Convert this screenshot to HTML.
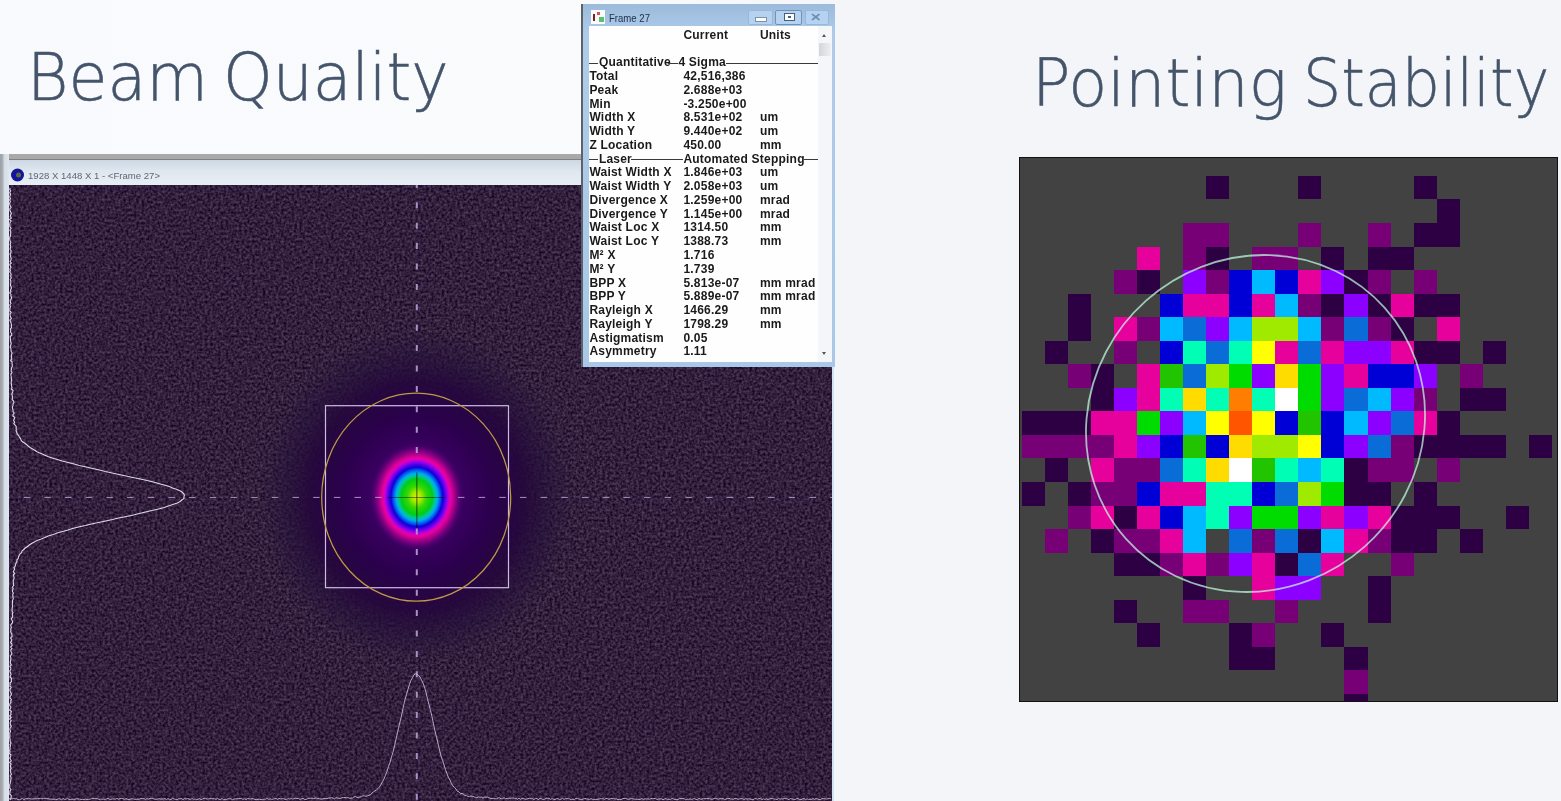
<!DOCTYPE html>
<html><head><meta charset="utf-8"><title>Beam Quality / Pointing Stability</title>
<style>
html,body{margin:0;padding:0}
body{width:1561px;height:801px;overflow:hidden;position:relative;background:linear-gradient(90deg,#f9fafd 0%,#fafbfd 36%,#f3f5f8 54%,#f3f5f8 100%);font-family:"Liberation Sans",sans-serif}
svg,#win,.h{position:absolute}
.h{font-family:"DejaVu Sans","Liberation Sans",sans-serif;font-weight:200;font-size:66px;line-height:77px;color:#44546a;white-space:nowrap;-webkit-text-stroke:0.5px #44546a;transform-origin:0 0}
#win{width:252px;height:363.7px;background:linear-gradient(#9cbada,#a3c1e1 12px,#a9c7e7 23px,#aecbea 30px,#a9c7e6);box-shadow:-2px 0 0 #5d6269}
.tb{position:absolute;left:0;top:0;width:100%;height:24px}
.ico{position:absolute;left:7.6px;top:6.8px;width:14.4px;height:13.7px;background:#fbfbfb}
.ico i{position:absolute;left:2.5px;top:4px;width:2px;height:7px;background:#7a2020}
.ico b{position:absolute;left:6px;top:2px;width:3.5px;height:3px;background:#e05050}
.ico u{position:absolute;left:8.5px;top:7px;width:4.5px;height:5px;background:#58c070}
.tt{position:absolute;left:25.5px;top:9px;font-size:10.3px;line-height:12px;color:#1e2e46;transform:scaleX(0.93);transform-origin:0 0}
.btn{position:absolute;top:6.6px;height:14.6px;border:1px solid #98b8da;border-radius:2px;background:#b6d2f0;box-sizing:border-box}
.btn.rsb{border-color:#6f93bb}
.btn em{position:absolute;font-style:normal}
.mn{left:6px;top:6.3px;width:10px;height:2.2px;background:#fff;border:1px solid #7b93ad;box-sizing:content-box}
.rs{left:8px;top:2.2px;width:8.5px;height:6px;background:#fff;border:1.2px solid #44607f}
.rs:after{content:"";position:absolute;left:3px;top:2px;width:2.5px;height:2px;background:#44607f}
.cl{left:5.5px;top:0px;font-size:11px;line-height:12px;color:#6d8fb5;font-weight:bold;transform:scaleX(1.25);transform-origin:50% 50%}
.body{position:absolute;left:6.4px;top:22.3px;width:242.4px;height:336px;background:#fefefe;overflow:hidden}
.hd{position:absolute;top:2.6px;letter-spacing:0.22px;font-size:12px;font-weight:bold;color:#1c1c1c;line-height:15px}
.r{position:absolute;left:0;width:232px;height:15px;font-size:12px;line-height:15px;font-weight:bold;color:#1a1a1a;white-space:nowrap;letter-spacing:0.22px}
.r span{position:absolute;top:0}
.r .l{left:0px} .r .v{left:94px} .r .u{left:170.5px}
.r .ln{top:7.5px;height:1px;background:#3a3a3a}
.sb{position:absolute;right:0;top:0;width:14px;height:100%;background:#f4f7fa}
.sb .up{position:absolute;left:4.5px;top:8px;border:2.6px solid transparent;border-bottom:3px solid #555;border-top:none}
.sb .dn{position:absolute;left:4.5px;bottom:7px;border:2.6px solid transparent;border-top:3px solid #555;border-bottom:none}
.sb .th{position:absolute;left:1.5px;top:17.5px;width:11.5px;height:13px;background:linear-gradient(90deg,#d2d6dc,#eeeff1);border-radius:1px}
</style></head><body>
<div class="h" style="left:26.9px;top:39px;transform:scaleX(0.96)">Beam</div>
<div class="h" style="left:222.9px;top:39px;transform:scaleX(0.957)">Quality</div>
<div class="h" style="left:1031.5px;top:45px;transform:scaleX(0.967)">Pointing</div>
<div class="h" style="left:1302.7px;top:45px;transform:scaleX(0.912)">Stability</div>
<svg id="beam" width="834" height="647" viewBox="0 0 834 647" style="left:0px;top:154px">
<defs>
<filter id="nz" x="0" y="0" width="100%" height="100%" color-interpolation-filters="sRGB">
<feTurbulence type="fractalNoise" baseFrequency="0.38" numOctaves="2" seed="5" result="t"/>
<feColorMatrix in="t" type="matrix" values="0.38 0 0 0 0.005  0.38 0 0 0 -0.065  0.36 0 0 0 0.06  0 0 0 0 1"/>
</filter>
<linearGradient id="tbg" x1="0" y1="0" x2="0" y2="1"><stop offset="0" stop-color="#ccd8e4"/><stop offset="0.45" stop-color="#dfe7ef"/><stop offset="1" stop-color="#e8eef5"/></linearGradient>
<linearGradient id="lbg" x1="0" y1="0" x2="1" y2="0"><stop offset="0" stop-color="#9da1a5"/><stop offset="0.25" stop-color="#a6aaae"/><stop offset="0.5" stop-color="#d4dde7"/><stop offset="1" stop-color="#dee7f0"/></linearGradient>
<radialGradient id="halo" cx="0.5" cy="0.5" r="0.5">
<stop offset="0" stop-color="#4a007a" stop-opacity="1"/>
<stop offset="0.28" stop-color="#3a0062" stop-opacity="1"/>
<stop offset="0.48" stop-color="#2a004c" stop-opacity="1"/>
<stop offset="0.68" stop-color="#24063c" stop-opacity="0.9"/>
<stop offset="0.84" stop-color="#26103a" stop-opacity="0.55"/>
<stop offset="1" stop-color="#2a163c" stop-opacity="0"/>
</radialGradient>
<radialGradient id="spot" cx="0.5" cy="0.5" r="0.5">
<stop offset="0" stop-color="#dcf000"/>
<stop offset="0.10" stop-color="#a4e800"/>
<stop offset="0.20" stop-color="#38d800"/>
<stop offset="0.33" stop-color="#00cc18"/>
<stop offset="0.39" stop-color="#00c890"/>
<stop offset="0.44" stop-color="#00acf0"/>
<stop offset="0.50" stop-color="#0058f0"/>
<stop offset="0.55" stop-color="#1000d8"/>
<stop offset="0.60" stop-color="#4c00e4"/>
<stop offset="0.645" stop-color="#9000f0"/>
<stop offset="0.69" stop-color="#d400c4"/>
<stop offset="0.725" stop-color="#e8009c"/>
<stop offset="0.79" stop-color="#b4008e"/>
<stop offset="0.88" stop-color="#70007c" stop-opacity="0.85"/>
<stop offset="1" stop-color="#44006c" stop-opacity="0"/>
</radialGradient>
</defs>
<rect x="0" y="0" width="834" height="6" fill="#a9a9a9"/>
<rect x="0" y="5" width="834" height="1" fill="#808080"/>
<rect x="0" y="6" width="834" height="647" fill="#e2e9f1"/>
<rect x="0" y="6" width="834" height="25" fill="url(#tbg)"/>
<rect x="0" y="0" width="9" height="647" fill="url(#lbg)"/>
<rect x="832" y="31" width="2" height="647" fill="#d5e2f0"/>
<rect x="9" y="31" width="823" height="616" fill="#33223f"/>
<rect x="9" y="31" width="823" height="616" filter="url(#nz)"/>
<ellipse cx="416.8" cy="342.5" rx="158" ry="168" fill="url(#halo)"/>
<ellipse cx="416.8" cy="343.0" rx="47" ry="54" fill="url(#spot)"/>
<rect x="325.5" y="251.7" width="183" height="182" fill="none" stroke="#cdbbe6" stroke-width="1.2"/>
<ellipse cx="416.2" cy="343.2" rx="94.5" ry="104" fill="none" stroke="#bd9a44" stroke-width="1.25"/>
<line x1="416.8" y1="31" x2="416.8" y2="301.5" stroke="#a892c4" stroke-width="2" stroke-dasharray="6 14.4" stroke-dashoffset="3.1"/>
<line x1="416.8" y1="374.5" x2="416.8" y2="647" stroke="#a892c4" stroke-width="2" stroke-dasharray="6 14.4"/>
<line x1="9" y1="343.4" x2="381.8" y2="343.4" stroke="#a892c4" stroke-width="1" stroke-dasharray="6.5 14.18" stroke-dashoffset="6.03"/>
<line x1="451.8" y1="343.4" x2="832" y2="343.4" stroke="#a892c4" stroke-width="1" stroke-dasharray="6.5 14.18" stroke-dashoffset="14.55"/>
<line x1="416.8" y1="318.5" x2="416.8" y2="373.5" stroke="#000" stroke-opacity="0.5" stroke-width="1.3"/>
<line x1="386.8" y1="343.5" x2="445.8" y2="343.5" stroke="#000" stroke-opacity="0.45" stroke-width="1.1"/>
<path d="M10.2 34.0 L9.8 35.5 L10.8 37.0 L9.7 38.5 L10.6 40.0 L10.2 41.5 L9.7 43.0 L10.5 44.5 L9.6 46.0 L10.4 47.5 L9.7 49.0 L9.7 50.5 L10.4 52.0 L11.1 53.5 L9.8 55.0 L10.0 56.5 L10.7 58.0 L11.4 59.5 L10.6 61.0 L10.3 62.5 L11.4 64.0 L9.6 65.5 L11.2 67.0 L10.1 68.5 L9.8 70.0 L9.8 71.5 L10.1 73.0 L11.1 74.5 L9.9 76.0 L10.7 77.5 L10.8 79.0 L10.3 80.5 L10.6 82.0 L9.7 83.5 L9.7 85.0 L9.9 86.5 L10.9 88.0 L10.4 89.5 L10.2 91.0 L10.7 92.5 L10.4 94.0 L10.1 95.5 L11.1 97.0 L10.9 98.5 L10.0 100.0 L10.7 101.5 L10.6 103.0 L11.2 104.5 L11.0 106.0 L10.1 107.5 L11.4 109.0 L9.8 110.5 L10.4 112.0 L11.0 113.5 L9.9 115.0 L10.5 116.5 L9.7 118.0 L10.9 119.5 L11.0 121.0 L10.7 122.5 L11.3 124.0 L10.2 125.5 L10.9 127.0 L10.7 128.5 L10.7 130.0 L10.5 131.5 L11.2 133.0 L11.4 134.5 L10.5 136.0 L10.9 137.5 L9.7 139.0 L11.0 140.5 L10.9 142.0 L11.6 143.5 L11.2 145.0 L10.2 146.5 L10.4 148.0 L11.0 149.5 L9.7 151.0 L10.6 152.5 L10.0 154.0 L9.9 155.5 L9.8 157.0 L11.2 158.5 L10.0 160.0 L10.2 161.5 L10.5 163.0 L11.5 164.5 L9.9 166.0 L10.7 167.5 L10.9 169.0 L11.5 170.5 L11.4 172.0 L11.5 173.5 L10.4 175.0 L10.7 176.5 L10.6 178.0 L11.6 179.5 L11.8 181.0 L10.3 182.5 L10.3 184.0 L10.5 185.5 L10.5 187.0 L11.0 188.5 L11.2 190.0 L10.6 191.5 L10.2 193.0 L11.0 194.5 L10.9 196.0 L11.3 197.5 L12.1 199.0 L11.6 200.5 L11.3 202.0 L11.6 203.5 L11.7 205.0 L10.6 206.5 L12.2 208.0 L12.0 209.5 L12.3 211.0 L12.2 212.5 L11.4 214.0 L11.5 215.5 L11.0 217.0 L12.0 218.5 L11.0 220.0 L11.0 221.5 L11.3 223.0 L11.3 224.5 L11.7 226.0 L11.2 227.5 L11.2 229.0 L11.5 230.5 L11.5 232.0 L12.0 233.5 L11.4 235.0 L13.1 236.5 L12.7 238.0 L11.9 239.5 L12.1 241.0 L12.4 242.5 L12.5 244.0 L12.1 245.5 L13.6 247.0 L13.9 248.5 L13.0 250.0 L13.1 251.5 L12.4 253.0 L12.5 254.5 L13.1 256.0 L13.0 257.5 L14.2 259.0 L13.1 260.5 L12.9 262.0 L14.8 263.5 L14.2 265.0 L13.6 266.5 L14.6 268.0 L13.8 269.5 L15.0 271.0 L16.2 272.5 L16.1 274.0 L16.3 275.5 L16.1 277.0 L16.8 278.5 L17.2 280.0 L18.7 281.5 L19.2 283.0 L20.6 284.5 L21.0 286.0 L22.2 287.5 L24.5 289.0 L26.4 290.5 L28.1 292.0 L30.1 293.5 L32.6 295.0 L35.1 296.5 L37.3 298.0 L41.1 299.5 L44.4 301.0 L47.9 302.5 L52.2 304.0 L57.2 305.5 L62.2 307.0 L68.1 308.5 L74.1 310.0 L79.3 311.5 L86.3 313.0 L92.8 314.5 L99.4 316.0 L105.4 317.5 L112.1 319.0 L119.1 320.5 L126.0 322.0 L132.9 323.5 L140.3 325.0 L147.2 326.5 L153.3 328.0 L158.6 329.5 L164.2 331.0 L169.3 332.5 L172.6 334.0 L177.1 335.5 L180.4 337.0 L182.5 338.5 L184.0 340.0 L184.4 341.5 L183.9 343.0 L184.0 344.5 L181.8 346.0 L180.1 347.5 L177.3 349.0 L172.8 350.5 L168.4 352.0 L164.3 353.5 L158.6 355.0 L151.9 356.5 L145.6 358.0 L139.1 359.5 L133.5 361.0 L126.4 362.5 L118.5 364.0 L112.5 365.5 L105.8 367.0 L98.5 368.5 L91.4 370.0 L85.3 371.5 L78.5 373.0 L72.4 374.5 L68.1 376.0 L62.4 377.5 L57.2 379.0 L53.2 380.5 L48.2 382.0 L44.9 383.5 L41.3 385.0 L37.1 386.5 L34.2 388.0 L31.6 389.5 L29.2 391.0 L27.6 392.5 L25.2 394.0 L23.8 395.5 L21.9 397.0 L21.8 398.5 L19.9 400.0 L19.1 401.5 L18.4 403.0 L18.2 404.5 L16.9 406.0 L17.0 407.5 L16.0 409.0 L15.6 410.5 L15.3 412.0 L14.0 413.5 L14.6 415.0 L13.9 416.5 L13.3 418.0 L14.7 419.5 L13.3 421.0 L13.8 422.5 L14.1 424.0 L13.7 425.5 L13.1 427.0 L13.4 428.5 L13.4 430.0 L13.7 431.5 L12.4 433.0 L13.2 434.5 L12.5 436.0 L12.5 437.5 L13.3 439.0 L12.8 440.5 L12.8 442.0 L13.1 443.5 L13.3 445.0 L12.4 446.5 L12.6 448.0 L12.4 449.5 L12.3 451.0 L12.6 452.5 L12.1 454.0 L12.2 455.5 L12.0 457.0 L12.9 458.5 L12.3 460.0 L12.6 461.5 L12.7 463.0 L11.3 464.5 L11.9 466.0 L12.6 467.5 L12.3 469.0 L10.9 470.5 L10.8 472.0 L11.4 473.5 L10.7 475.0 L11.0 476.5 L10.6 478.0 L11.7 479.5 L11.9 481.0 L12.1 482.5 L10.6 484.0 L11.7 485.5 L11.5 487.0 L10.5 488.5 L11.9 490.0 L12.0 491.5 L10.6 493.0 L11.9 494.5 L10.8 496.0 L11.0 497.5 L11.9 499.0 L11.6 500.5 L10.3 502.0 L10.8 503.5 L10.9 505.0 L10.6 506.5 L10.3 508.0 L10.5 509.5 L11.3 511.0 L9.9 512.5 L10.9 514.0 L10.7 515.5 L9.8 517.0 L10.4 518.5 L11.0 520.0 L10.7 521.5 L9.9 523.0 L11.6 524.5 L11.2 526.0 L11.6 527.5 L9.9 529.0 L10.2 530.5 L9.8 532.0 L11.2 533.5 L10.2 535.0 L9.9 536.5 L10.5 538.0 L11.4 539.5 L11.2 541.0 L10.1 542.5 L9.9 544.0 L11.4 545.5 L10.7 547.0 L11.0 548.5 L9.8 550.0 L9.7 551.5 L10.9 553.0 L10.4 554.5 L9.7 556.0 L11.4 557.5 L10.8 559.0 L11.1 560.5 L9.7 562.0 L11.2 563.5 L9.7 565.0 L11.2 566.5 L10.4 568.0 L10.2 569.5 L10.6 571.0 L11.3 572.5 L10.1 574.0 L9.8 575.5 L10.6 577.0 L10.0 578.5 L9.8 580.0 L9.9 581.5 L9.7 583.0 L9.9 584.5 L10.2 586.0 L10.1 587.5 L11.0 589.0 L10.1 590.5 L10.5 592.0 L9.9 593.5 L10.2 595.0 L9.6 596.5 L10.0 598.0 L9.6 599.5 L11.0 601.0 L10.6 602.5 L9.9 604.0 L10.5 605.5 L11.3 607.0 L9.7 608.5 L11.1 610.0 L10.4 611.5 L10.5 613.0 L11.1 614.5 L10.3 616.0 L10.5 617.5 L10.9 619.0 L11.4 620.5 L10.2 622.0 L11.1 623.5 L10.9 625.0 L10.8 626.5 L10.3 628.0 L10.2 629.5 L9.6 631.0 L9.8 632.5 L9.7 634.0 L11.0 635.5 L10.0 637.0 L9.9 638.5 L9.7 640.0 L11.2 641.5 L11.2 643.0 L10.8 644.5 L10.1 646.0" fill="none" stroke="#ece6f4" stroke-width="1.1" stroke-opacity="0.92"/>
<path d="M9.0 644.6 L10.5 644.7 L12.0 644.9 L13.5 644.5 L15.0 644.9 L16.5 644.7 L18.0 645.6 L19.5 645.7 L21.0 645.1 L22.5 644.6 L24.0 645.7 L25.5 644.7 L27.0 644.8 L28.5 644.3 L30.0 644.8 L31.5 645.0 L33.0 645.0 L34.5 644.6 L36.0 645.0 L37.5 644.3 L39.0 644.7 L40.5 644.4 L42.0 644.9 L43.5 644.4 L45.0 644.3 L46.5 644.7 L48.0 644.6 L49.5 645.1 L51.0 645.0 L52.5 645.4 L54.0 645.2 L55.5 645.3 L57.0 645.5 L58.5 644.8 L60.0 644.8 L61.5 645.7 L63.0 644.5 L64.5 645.3 L66.0 645.2 L67.5 644.4 L69.0 645.5 L70.5 645.5 L72.0 645.2 L73.5 645.3 L75.0 645.4 L76.5 644.5 L78.0 645.0 L79.5 645.0 L81.0 645.5 L82.5 645.4 L84.0 645.5 L85.5 645.1 L87.0 645.5 L88.5 645.3 L90.0 645.3 L91.5 644.6 L93.0 644.3 L94.5 644.5 L96.0 644.8 L97.5 644.4 L99.0 645.5 L100.5 645.1 L102.0 645.2 L103.5 645.2 L105.0 645.3 L106.5 645.0 L108.0 644.3 L109.5 645.4 L111.0 645.3 L112.5 645.0 L114.0 645.0 L115.5 645.2 L117.0 644.4 L118.5 645.3 L120.0 644.7 L121.5 644.4 L123.0 644.7 L124.5 645.3 L126.0 644.6 L127.5 645.3 L129.0 645.7 L130.5 645.0 L132.0 644.8 L133.5 645.0 L135.0 645.3 L136.5 645.4 L138.0 645.2 L139.5 645.2 L141.0 644.4 L142.5 644.5 L144.0 644.7 L145.5 645.3 L147.0 644.7 L148.5 645.1 L150.0 644.3 L151.5 644.4 L153.0 644.7 L154.5 645.2 L156.0 645.3 L157.5 645.2 L159.0 644.7 L160.5 645.0 L162.0 645.0 L163.5 645.0 L165.0 644.5 L166.5 645.6 L168.0 644.6 L169.5 645.7 L171.0 645.6 L172.5 644.3 L174.0 644.9 L175.5 645.4 L177.0 645.7 L178.5 644.9 L180.0 644.7 L181.5 644.6 L183.0 645.6 L184.5 644.6 L186.0 645.1 L187.5 644.5 L189.0 645.0 L190.5 645.6 L192.0 644.5 L193.5 645.4 L195.0 645.0 L196.5 645.5 L198.0 645.3 L199.5 644.6 L201.0 645.6 L202.5 645.0 L204.0 644.3 L205.5 644.3 L207.0 645.0 L208.5 644.9 L210.0 644.7 L211.5 644.5 L213.0 644.8 L214.5 644.7 L216.0 645.5 L217.5 644.3 L219.0 645.4 L220.5 645.5 L222.0 644.5 L223.5 645.6 L225.0 645.3 L226.5 645.6 L228.0 644.7 L229.5 644.8 L231.0 644.8 L232.5 645.7 L234.0 645.1 L235.5 644.8 L237.0 644.9 L238.5 644.7 L240.0 644.4 L241.5 644.4 L243.0 645.5 L244.5 644.7 L246.0 645.6 L247.5 644.6 L249.0 644.7 L250.5 645.0 L252.0 644.6 L253.5 644.8 L255.0 645.6 L256.5 645.5 L258.0 645.4 L259.5 645.2 L261.0 645.6 L262.5 645.6 L264.0 645.1 L265.5 645.3 L267.0 644.4 L268.5 645.3 L270.0 644.9 L271.5 645.3 L273.0 645.2 L274.5 644.7 L276.0 644.3 L277.5 645.6 L279.0 644.4 L280.5 644.9 L282.0 644.7 L283.5 644.7 L285.0 645.3 L286.5 645.6 L288.0 644.6 L289.5 645.1 L291.0 644.6 L292.5 645.0 L294.0 644.8 L295.5 644.4 L297.0 644.4 L298.5 644.5 L300.0 645.4 L301.5 644.8 L303.0 644.4 L304.5 645.4 L306.0 645.5 L307.5 644.7 L309.0 644.3 L310.5 644.3 L312.0 644.2 L313.5 644.5 L315.0 644.1 L316.5 644.3 L318.0 644.3 L319.5 644.7 L321.0 645.1 L322.5 644.9 L324.0 644.4 L325.5 644.4 L327.0 644.5 L328.5 644.2 L330.0 644.1 L331.5 643.7 L333.0 644.0 L334.5 644.9 L336.0 643.7 L337.5 644.1 L339.0 644.3 L340.5 644.5 L342.0 643.6 L343.5 643.6 L345.0 643.5 L346.5 643.7 L348.0 643.6 L349.5 644.3 L351.0 644.1 L352.5 644.0 L354.0 642.7 L355.5 642.6 L357.0 643.4 L358.5 643.6 L360.0 642.8 L361.5 642.8 L363.0 641.7 L364.5 642.0 L366.0 642.3 L367.5 641.8 L369.0 641.3 L370.5 640.8 L372.0 639.0 L373.5 637.9 L375.0 636.8 L376.5 635.9 L378.0 634.5 L379.5 633.0 L381.0 630.4 L382.5 627.7 L384.0 624.9 L385.5 621.1 L387.0 617.4 L388.5 612.4 L390.0 608.7 L391.5 602.8 L393.0 598.2 L394.5 591.9 L396.0 585.2 L397.5 578.5 L399.0 572.0 L400.5 565.8 L402.0 559.2 L403.5 551.9 L405.0 545.6 L406.5 540.4 L408.0 535.2 L409.5 530.3 L411.0 526.2 L412.5 523.7 L414.0 520.7 L415.5 519.9 L417.0 520.0 L418.5 521.5 L420.0 522.9 L421.5 526.0 L423.0 529.0 L424.5 533.1 L426.0 538.2 L427.5 544.9 L429.0 550.6 L430.5 556.5 L432.0 562.7 L433.5 570.1 L435.0 577.0 L436.5 583.2 L438.0 589.3 L439.5 595.9 L441.0 602.0 L442.5 606.3 L444.0 610.9 L445.5 615.7 L447.0 619.8 L448.5 623.7 L450.0 626.1 L451.5 629.7 L453.0 632.0 L454.5 633.7 L456.0 635.0 L457.5 637.5 L459.0 637.8 L460.5 639.5 L462.0 639.5 L463.5 640.2 L465.0 641.5 L466.5 641.3 L468.0 642.6 L469.5 642.3 L471.0 642.1 L472.5 642.4 L474.0 642.8 L475.5 643.3 L477.0 643.9 L478.5 642.9 L480.0 643.3 L481.5 643.1 L483.0 644.3 L484.5 643.2 L486.0 643.1 L487.5 643.2 L489.0 643.8 L490.5 644.5 L492.0 644.6 L493.5 644.4 L495.0 644.8 L496.5 644.8 L498.0 644.0 L499.5 643.8 L501.0 644.9 L502.5 644.7 L504.0 643.7 L505.5 644.7 L507.0 644.3 L508.5 644.3 L510.0 644.3 L511.5 644.1 L513.0 643.9 L514.5 644.3 L516.0 644.4 L517.5 645.3 L519.0 644.2 L520.5 645.4 L522.0 644.3 L523.5 644.6 L525.0 645.2 L526.5 645.2 L528.0 644.7 L529.5 644.2 L531.0 644.8 L532.5 644.7 L534.0 645.5 L535.5 644.4 L537.0 644.7 L538.5 645.5 L540.0 644.2 L541.5 644.8 L543.0 645.4 L544.5 645.3 L546.0 644.3 L547.5 644.3 L549.0 644.3 L550.5 645.5 L552.0 644.6 L553.5 645.3 L555.0 645.5 L556.5 644.7 L558.0 644.7 L559.5 645.6 L561.0 645.1 L562.5 644.6 L564.0 645.3 L565.5 644.7 L567.0 644.7 L568.5 644.3 L570.0 645.3 L571.5 645.6 L573.0 645.2 L574.5 645.6 L576.0 644.3 L577.5 644.6 L579.0 645.0 L580.5 645.6 L582.0 645.6 L583.5 644.8 L585.0 644.6 L586.5 644.9 L588.0 645.0 L589.5 645.6 L591.0 644.6 L592.5 645.4 L594.0 645.3 L595.5 645.5 L597.0 645.4 L598.5 645.1 L600.0 644.8 L601.5 644.7 L603.0 644.8 L604.5 645.4 L606.0 644.4 L607.5 644.6 L609.0 645.4 L610.5 644.6 L612.0 644.4 L613.5 644.3 L615.0 645.1 L616.5 644.8 L618.0 645.7 L619.5 645.5 L621.0 645.7 L622.5 644.7 L624.0 644.4 L625.5 644.4 L627.0 645.0 L628.5 645.3 L630.0 644.9 L631.5 644.6 L633.0 644.9 L634.5 645.2 L636.0 645.2 L637.5 645.3 L639.0 645.5 L640.5 645.2 L642.0 644.5 L643.5 645.5 L645.0 644.7 L646.5 645.1 L648.0 644.8 L649.5 645.3 L651.0 644.6 L652.5 644.6 L654.0 644.6 L655.5 644.5 L657.0 645.5 L658.5 645.1 L660.0 644.8 L661.5 644.9 L663.0 645.7 L664.5 645.0 L666.0 644.6 L667.5 645.4 L669.0 645.2 L670.5 645.7 L672.0 644.4 L673.5 645.0 L675.0 645.4 L676.5 645.5 L678.0 645.6 L679.5 644.4 L681.0 644.7 L682.5 644.5 L684.0 644.6 L685.5 645.7 L687.0 645.1 L688.5 645.6 L690.0 644.8 L691.5 645.5 L693.0 644.9 L694.5 644.7 L696.0 645.4 L697.5 645.6 L699.0 644.4 L700.5 645.1 L702.0 645.2 L703.5 644.6 L705.0 644.8 L706.5 644.5 L708.0 644.6 L709.5 644.7 L711.0 645.1 L712.5 645.2 L714.0 644.6 L715.5 644.3 L717.0 644.8 L718.5 645.2 L720.0 644.6 L721.5 644.7 L723.0 644.6 L724.5 645.4 L726.0 645.1 L727.5 644.4 L729.0 644.4 L730.5 644.9 L732.0 645.1 L733.5 645.2 L735.0 644.4 L736.5 644.5 L738.0 645.3 L739.5 644.9 L741.0 644.7 L742.5 644.7 L744.0 645.6 L745.5 644.7 L747.0 645.1 L748.5 644.8 L750.0 644.9 L751.5 645.5 L753.0 645.7 L754.5 644.8 L756.0 644.6 L757.5 645.3 L759.0 644.6 L760.5 644.3 L762.0 645.6 L763.5 644.9 L765.0 645.4 L766.5 644.9 L768.0 645.5 L769.5 644.9 L771.0 644.5 L772.5 644.3 L774.0 645.1 L775.5 645.2 L777.0 645.6 L778.5 644.4 L780.0 645.2 L781.5 644.8 L783.0 645.0 L784.5 644.5 L786.0 644.7 L787.5 645.0 L789.0 645.6 L790.5 644.5 L792.0 645.0 L793.5 645.4 L795.0 645.7 L796.5 644.6 L798.0 644.5 L799.5 645.6 L801.0 645.7 L802.5 645.0 L804.0 644.4 L805.5 645.6 L807.0 644.8 L808.5 645.6 L810.0 645.2 L811.5 645.5 L813.0 644.5 L814.5 645.4 L816.0 644.6 L817.5 644.9 L819.0 645.5 L820.5 645.5 L822.0 644.6 L823.5 644.6 L825.0 644.9 L826.5 645.0 L828.0 644.8 L829.5 644.5 L831.0 644.6" fill="none" stroke="#cdbfe2" stroke-width="1" stroke-opacity="0.85"/>
<circle cx="17.5" cy="21" r="6.5" fill="#15159a"/>
<circle cx="18.5" cy="21" r="2.5" fill="#5a6a40"/>
<text x="28" y="24.5" font-family="Liberation Sans, sans-serif" font-size="9.5" fill="#5d6873" textLength="132" lengthAdjust="spacingAndGlyphs">1928 X 1448 X 1 - &lt;Frame 27&gt;</text>
</svg>
<div id="win" style="left:583px;top:3.5px">
<div class="tb"><span class="ico"><i></i><b></b><u></u></span><span class="tt">Frame 27</span>
<span class="btn" style="left:164.5px;width:25px"><em class="mn"></em></span><span class="btn rsb" style="left:192.2px;width:26.6px"><em class="rs"></em></span><span class="btn" style="left:221.8px;width:24.7px"><em class="cl">&#x2715;</em></span></div>
<div class="body">
<div class="hd" style="left:94px">Current</div><div class="hd" style="left:170.5px">Units</div>
<div class="r" style="top:29.6px"><span class="ln" style="left:0px;width:9px"></span><span class="l" style="left:9.5px">Quantitative</span><span class="ln" style="left:79px;width:10px"></span><span class="v" style="left:89px">4 Sigma</span><span class="ln" style="left:136.5px;width:92px"></span></div><div class="r" style="top:43.4px"><span class="l">Total</span><span class="v">42,516,386</span><span class="u"></span></div><div class="r" style="top:57.1px"><span class="l">Peak</span><span class="v">2.688e+03</span><span class="u"></span></div><div class="r" style="top:70.9px"><span class="l">Min</span><span class="v">-3.250e+00</span><span class="u"></span></div><div class="r" style="top:84.6px"><span class="l">Width X</span><span class="v">8.531e+02</span><span class="u">um</span></div><div class="r" style="top:98.4px"><span class="l">Width Y</span><span class="v">9.440e+02</span><span class="u">um</span></div><div class="r" style="top:112.2px"><span class="l">Z Location</span><span class="v">450.00</span><span class="u">mm</span></div><div class="r" style="top:125.9px"><span class="ln" style="left:0px;width:9px"></span><span class="l" style="left:9.5px">Laser</span><span class="ln" style="left:41.5px;width:52px"></span><span class="v" style="left:94px">Automated Stepping</span><span class="ln" style="left:214.5px;width:14px"></span></div><div class="r" style="top:139.7px"><span class="l">Waist Width X</span><span class="v">1.846e+03</span><span class="u">um</span></div><div class="r" style="top:153.4px"><span class="l">Waist Width Y</span><span class="v">2.058e+03</span><span class="u">um</span></div><div class="r" style="top:167.2px"><span class="l">Divergence X</span><span class="v">1.259e+00</span><span class="u">mrad</span></div><div class="r" style="top:181.0px"><span class="l">Divergence Y</span><span class="v">1.145e+00</span><span class="u">mrad</span></div><div class="r" style="top:194.7px"><span class="l">Waist Loc X</span><span class="v">1314.50</span><span class="u">mm</span></div><div class="r" style="top:208.5px"><span class="l">Waist Loc Y</span><span class="v">1388.73</span><span class="u">mm</span></div><div class="r" style="top:222.2px"><span class="l">M² X</span><span class="v">1.716</span><span class="u"></span></div><div class="r" style="top:236.0px"><span class="l">M² Y</span><span class="v">1.739</span><span class="u"></span></div><div class="r" style="top:249.8px"><span class="l">BPP X</span><span class="v">5.813e-07</span><span class="u">mm mrad</span></div><div class="r" style="top:263.5px"><span class="l">BPP Y</span><span class="v">5.889e-07</span><span class="u">mm mrad</span></div><div class="r" style="top:277.3px"><span class="l">Rayleigh X</span><span class="v">1466.29</span><span class="u">mm</span></div><div class="r" style="top:291.0px"><span class="l">Rayleigh Y</span><span class="v">1798.29</span><span class="u">mm</span></div><div class="r" style="top:304.8px"><span class="l">Astigmatism</span><span class="v">0.05</span><span class="u"></span></div><div class="r" style="top:318.6px"><span class="l">Asymmetry</span><span class="v">1.11</span><span class="u"></span></div>
<div class="sb"><span class="up"></span><span class="th"></span><span class="dn"></span></div>
</div></div>
<svg id="heat" width="539" height="545" viewBox="0 0 539 545" style="left:1019px;top:157px">
<rect width="539" height="545" fill="#424242"/>
<g shape-rendering="crispEdges"><rect x="187" y="19" width="23" height="23" fill="#2d0044"/><rect x="279" y="19" width="23" height="23" fill="#2d0044"/><rect x="395" y="19" width="23" height="23" fill="#2d0044"/><rect x="418" y="42" width="23" height="24" fill="#2d0044"/><rect x="164" y="66" width="23" height="24" fill="#770077"/><rect x="187" y="66" width="23" height="24" fill="#770077"/><rect x="279" y="66" width="23" height="24" fill="#770077"/><rect x="349" y="66" width="23" height="24" fill="#770077"/><rect x="395" y="66" width="23" height="24" fill="#2d0044"/><rect x="418" y="66" width="23" height="24" fill="#2d0044"/><rect x="118" y="90" width="23" height="23" fill="#e6009c"/><rect x="164" y="90" width="23" height="23" fill="#770077"/><rect x="187" y="90" width="23" height="23" fill="#2d0044"/><rect x="233" y="90" width="23" height="23" fill="#770077"/><rect x="256" y="90" width="23" height="23" fill="#770077"/><rect x="302" y="90" width="23" height="23" fill="#2d0044"/><rect x="349" y="90" width="23" height="23" fill="#2d0044"/><rect x="372" y="90" width="23" height="23" fill="#2d0044"/><rect x="95" y="113" width="23" height="24" fill="#770077"/><rect x="118" y="113" width="23" height="24" fill="#2d0044"/><rect x="164" y="113" width="23" height="24" fill="#8c00ff"/><rect x="187" y="113" width="23" height="24" fill="#770077"/><rect x="210" y="113" width="23" height="24" fill="#0000d6"/><rect x="233" y="113" width="23" height="24" fill="#00baff"/><rect x="256" y="113" width="23" height="24" fill="#0000d6"/><rect x="279" y="113" width="23" height="24" fill="#e6009c"/><rect x="302" y="113" width="23" height="24" fill="#8c00ff"/><rect x="325" y="113" width="24" height="24" fill="#2d0044"/><rect x="349" y="113" width="23" height="24" fill="#770077"/><rect x="395" y="113" width="23" height="24" fill="#770077"/><rect x="49" y="137" width="23" height="23" fill="#2d0044"/><rect x="141" y="137" width="23" height="23" fill="#0000d6"/><rect x="164" y="137" width="23" height="23" fill="#e6009c"/><rect x="187" y="137" width="23" height="23" fill="#e6009c"/><rect x="210" y="137" width="23" height="23" fill="#0000d6"/><rect x="233" y="137" width="23" height="23" fill="#e6009c"/><rect x="256" y="137" width="23" height="23" fill="#00baff"/><rect x="279" y="137" width="23" height="23" fill="#770077"/><rect x="302" y="137" width="23" height="23" fill="#2d0044"/><rect x="325" y="137" width="24" height="23" fill="#8c00ff"/><rect x="349" y="137" width="23" height="23" fill="#2d0044"/><rect x="372" y="137" width="23" height="23" fill="#e6009c"/><rect x="395" y="137" width="23" height="23" fill="#2d0044"/><rect x="418" y="137" width="23" height="23" fill="#2d0044"/><rect x="49" y="160" width="23" height="24" fill="#2d0044"/><rect x="95" y="160" width="23" height="24" fill="#e6009c"/><rect x="118" y="160" width="23" height="24" fill="#770077"/><rect x="141" y="160" width="23" height="24" fill="#00baff"/><rect x="164" y="160" width="23" height="24" fill="#0a6cd6"/><rect x="187" y="160" width="23" height="24" fill="#8c00ff"/><rect x="210" y="160" width="23" height="24" fill="#00baff"/><rect x="233" y="160" width="23" height="24" fill="#a0ea00"/><rect x="256" y="160" width="23" height="24" fill="#a0ea00"/><rect x="279" y="160" width="23" height="24" fill="#00baff"/><rect x="302" y="160" width="23" height="24" fill="#770077"/><rect x="325" y="160" width="24" height="24" fill="#0a6cd6"/><rect x="349" y="160" width="23" height="24" fill="#770077"/><rect x="372" y="160" width="23" height="24" fill="#2d0044"/><rect x="418" y="160" width="23" height="24" fill="#e6009c"/><rect x="26" y="184" width="23" height="23" fill="#2d0044"/><rect x="95" y="184" width="23" height="23" fill="#770077"/><rect x="141" y="184" width="23" height="23" fill="#0000d6"/><rect x="164" y="184" width="23" height="23" fill="#00ffb4"/><rect x="187" y="184" width="23" height="23" fill="#0a6cd6"/><rect x="210" y="184" width="23" height="23" fill="#00ffb4"/><rect x="233" y="184" width="23" height="23" fill="#ffff00"/><rect x="256" y="184" width="23" height="23" fill="#e6009c"/><rect x="279" y="184" width="23" height="23" fill="#0a6cd6"/><rect x="302" y="184" width="23" height="23" fill="#e6009c"/><rect x="325" y="184" width="24" height="23" fill="#8c00ff"/><rect x="349" y="184" width="23" height="23" fill="#8c00ff"/><rect x="372" y="184" width="23" height="23" fill="#e6009c"/><rect x="395" y="184" width="23" height="23" fill="#2d0044"/><rect x="418" y="184" width="23" height="23" fill="#2d0044"/><rect x="464" y="184" width="23" height="23" fill="#2d0044"/><rect x="49" y="207" width="23" height="24" fill="#770077"/><rect x="72" y="207" width="23" height="24" fill="#2d0044"/><rect x="118" y="207" width="23" height="24" fill="#e6009c"/><rect x="141" y="207" width="23" height="24" fill="#22c400"/><rect x="164" y="207" width="23" height="24" fill="#0a6cd6"/><rect x="187" y="207" width="23" height="24" fill="#a0ea00"/><rect x="210" y="207" width="23" height="24" fill="#00dc00"/><rect x="233" y="207" width="23" height="24" fill="#8c00ff"/><rect x="256" y="207" width="23" height="24" fill="#ffdc00"/><rect x="279" y="207" width="23" height="24" fill="#00dc00"/><rect x="302" y="207" width="23" height="24" fill="#8c00ff"/><rect x="325" y="207" width="24" height="24" fill="#e6009c"/><rect x="349" y="207" width="23" height="24" fill="#0000d6"/><rect x="372" y="207" width="23" height="24" fill="#0000d6"/><rect x="395" y="207" width="23" height="24" fill="#8c00ff"/><rect x="441" y="207" width="23" height="24" fill="#770077"/><rect x="72" y="231" width="23" height="23" fill="#2d0044"/><rect x="95" y="231" width="23" height="23" fill="#8c00ff"/><rect x="118" y="231" width="23" height="23" fill="#e6009c"/><rect x="141" y="231" width="23" height="23" fill="#00ffb4"/><rect x="164" y="231" width="23" height="23" fill="#ffdc00"/><rect x="187" y="231" width="23" height="23" fill="#00ffb4"/><rect x="210" y="231" width="23" height="23" fill="#ff7d00"/><rect x="233" y="231" width="23" height="23" fill="#00ffb4"/><rect x="256" y="231" width="23" height="23" fill="#ffffff"/><rect x="279" y="231" width="23" height="23" fill="#00dc00"/><rect x="302" y="231" width="23" height="23" fill="#8c00ff"/><rect x="325" y="231" width="24" height="23" fill="#0a6cd6"/><rect x="349" y="231" width="23" height="23" fill="#00baff"/><rect x="372" y="231" width="23" height="23" fill="#8c00ff"/><rect x="395" y="231" width="23" height="23" fill="#770077"/><rect x="441" y="231" width="23" height="23" fill="#2d0044"/><rect x="464" y="231" width="23" height="23" fill="#2d0044"/><rect x="3" y="254" width="23" height="24" fill="#2d0044"/><rect x="26" y="254" width="23" height="24" fill="#2d0044"/><rect x="49" y="254" width="23" height="24" fill="#2d0044"/><rect x="72" y="254" width="23" height="24" fill="#e6009c"/><rect x="95" y="254" width="23" height="24" fill="#e6009c"/><rect x="118" y="254" width="23" height="24" fill="#00dc00"/><rect x="141" y="254" width="23" height="24" fill="#8c00ff"/><rect x="164" y="254" width="23" height="24" fill="#00baff"/><rect x="187" y="254" width="23" height="24" fill="#ffff00"/><rect x="210" y="254" width="23" height="24" fill="#ff5500"/><rect x="233" y="254" width="23" height="24" fill="#ffff00"/><rect x="256" y="254" width="23" height="24" fill="#0000d6"/><rect x="279" y="254" width="23" height="24" fill="#22c400"/><rect x="302" y="254" width="23" height="24" fill="#0000d6"/><rect x="325" y="254" width="24" height="24" fill="#00baff"/><rect x="349" y="254" width="23" height="24" fill="#8c00ff"/><rect x="372" y="254" width="23" height="24" fill="#0a6cd6"/><rect x="395" y="254" width="23" height="24" fill="#e6009c"/><rect x="418" y="254" width="23" height="24" fill="#2d0044"/><rect x="3" y="278" width="23" height="23" fill="#770077"/><rect x="26" y="278" width="23" height="23" fill="#770077"/><rect x="49" y="278" width="23" height="23" fill="#770077"/><rect x="72" y="278" width="23" height="23" fill="#770077"/><rect x="95" y="278" width="23" height="23" fill="#e6009c"/><rect x="118" y="278" width="23" height="23" fill="#8c00ff"/><rect x="141" y="278" width="23" height="23" fill="#0000d6"/><rect x="164" y="278" width="23" height="23" fill="#22c400"/><rect x="187" y="278" width="23" height="23" fill="#0000d6"/><rect x="210" y="278" width="23" height="23" fill="#ffdc00"/><rect x="233" y="278" width="23" height="23" fill="#a0ea00"/><rect x="256" y="278" width="23" height="23" fill="#a0ea00"/><rect x="279" y="278" width="23" height="23" fill="#ffff00"/><rect x="302" y="278" width="23" height="23" fill="#0000d6"/><rect x="325" y="278" width="24" height="23" fill="#8c00ff"/><rect x="349" y="278" width="23" height="23" fill="#0a6cd6"/><rect x="372" y="278" width="23" height="23" fill="#770077"/><rect x="395" y="278" width="23" height="23" fill="#2d0044"/><rect x="418" y="278" width="23" height="23" fill="#2d0044"/><rect x="441" y="278" width="23" height="23" fill="#2d0044"/><rect x="464" y="278" width="23" height="23" fill="#2d0044"/><rect x="510" y="278" width="23" height="23" fill="#2d0044"/><rect x="26" y="301" width="23" height="24" fill="#2d0044"/><rect x="72" y="301" width="23" height="24" fill="#e6009c"/><rect x="95" y="301" width="23" height="24" fill="#770077"/><rect x="118" y="301" width="23" height="24" fill="#770077"/><rect x="141" y="301" width="23" height="24" fill="#0a6cd6"/><rect x="164" y="301" width="23" height="24" fill="#00ffb4"/><rect x="187" y="301" width="23" height="24" fill="#ffdc00"/><rect x="210" y="301" width="23" height="24" fill="#ffffff"/><rect x="233" y="301" width="23" height="24" fill="#22c400"/><rect x="256" y="301" width="23" height="24" fill="#00ffb4"/><rect x="279" y="301" width="23" height="24" fill="#00baff"/><rect x="302" y="301" width="23" height="24" fill="#00ffb4"/><rect x="325" y="301" width="24" height="24" fill="#2d0044"/><rect x="349" y="301" width="23" height="24" fill="#770077"/><rect x="372" y="301" width="23" height="24" fill="#770077"/><rect x="418" y="301" width="23" height="24" fill="#770077"/><rect x="3" y="325" width="23" height="24" fill="#2d0044"/><rect x="49" y="325" width="23" height="24" fill="#2d0044"/><rect x="72" y="325" width="23" height="24" fill="#770077"/><rect x="95" y="325" width="23" height="24" fill="#770077"/><rect x="118" y="325" width="23" height="24" fill="#0000d6"/><rect x="141" y="325" width="23" height="24" fill="#e6009c"/><rect x="164" y="325" width="23" height="24" fill="#e6009c"/><rect x="187" y="325" width="23" height="24" fill="#00ffb4"/><rect x="210" y="325" width="23" height="24" fill="#00ffb4"/><rect x="233" y="325" width="23" height="24" fill="#0000d6"/><rect x="256" y="325" width="23" height="24" fill="#0a6cd6"/><rect x="279" y="325" width="23" height="24" fill="#a0ea00"/><rect x="302" y="325" width="23" height="24" fill="#00dc00"/><rect x="325" y="325" width="24" height="24" fill="#2d0044"/><rect x="349" y="325" width="23" height="24" fill="#2d0044"/><rect x="395" y="325" width="23" height="24" fill="#2d0044"/><rect x="49" y="349" width="23" height="23" fill="#770077"/><rect x="72" y="349" width="23" height="23" fill="#e6009c"/><rect x="95" y="349" width="23" height="23" fill="#2d0044"/><rect x="118" y="349" width="23" height="23" fill="#e6009c"/><rect x="141" y="349" width="23" height="23" fill="#0000d6"/><rect x="164" y="349" width="23" height="23" fill="#00baff"/><rect x="187" y="349" width="23" height="23" fill="#00ffb4"/><rect x="210" y="349" width="23" height="23" fill="#8c00ff"/><rect x="233" y="349" width="23" height="23" fill="#00dc00"/><rect x="256" y="349" width="23" height="23" fill="#00dc00"/><rect x="279" y="349" width="23" height="23" fill="#8c00ff"/><rect x="302" y="349" width="23" height="23" fill="#e6009c"/><rect x="325" y="349" width="24" height="23" fill="#8c00ff"/><rect x="349" y="349" width="23" height="23" fill="#e6009c"/><rect x="372" y="349" width="23" height="23" fill="#2d0044"/><rect x="395" y="349" width="23" height="23" fill="#2d0044"/><rect x="418" y="349" width="23" height="23" fill="#2d0044"/><rect x="487" y="349" width="23" height="23" fill="#2d0044"/><rect x="26" y="372" width="23" height="24" fill="#770077"/><rect x="72" y="372" width="23" height="24" fill="#2d0044"/><rect x="95" y="372" width="23" height="24" fill="#770077"/><rect x="118" y="372" width="23" height="24" fill="#770077"/><rect x="141" y="372" width="23" height="24" fill="#e6009c"/><rect x="164" y="372" width="23" height="24" fill="#00baff"/><rect x="210" y="372" width="23" height="24" fill="#0a6cd6"/><rect x="233" y="372" width="23" height="24" fill="#770077"/><rect x="256" y="372" width="23" height="24" fill="#0a6cd6"/><rect x="279" y="372" width="23" height="24" fill="#2d0044"/><rect x="302" y="372" width="23" height="24" fill="#00baff"/><rect x="325" y="372" width="24" height="24" fill="#e6009c"/><rect x="349" y="372" width="23" height="24" fill="#770077"/><rect x="372" y="372" width="23" height="24" fill="#2d0044"/><rect x="395" y="372" width="23" height="24" fill="#2d0044"/><rect x="441" y="372" width="23" height="24" fill="#2d0044"/><rect x="95" y="396" width="23" height="23" fill="#2d0044"/><rect x="118" y="396" width="23" height="23" fill="#2d0044"/><rect x="141" y="396" width="23" height="23" fill="#770077"/><rect x="164" y="396" width="23" height="23" fill="#e6009c"/><rect x="187" y="396" width="23" height="23" fill="#770077"/><rect x="210" y="396" width="23" height="23" fill="#8c00ff"/><rect x="233" y="396" width="23" height="23" fill="#e6009c"/><rect x="256" y="396" width="23" height="23" fill="#2d0044"/><rect x="279" y="396" width="23" height="23" fill="#0a6cd6"/><rect x="302" y="396" width="23" height="23" fill="#e6009c"/><rect x="372" y="396" width="23" height="23" fill="#770077"/><rect x="164" y="419" width="23" height="24" fill="#2d0044"/><rect x="233" y="419" width="23" height="24" fill="#e6009c"/><rect x="256" y="419" width="23" height="24" fill="#8c00ff"/><rect x="279" y="419" width="23" height="24" fill="#8c00ff"/><rect x="349" y="419" width="23" height="24" fill="#2d0044"/><rect x="95" y="443" width="23" height="23" fill="#2d0044"/><rect x="164" y="443" width="23" height="23" fill="#770077"/><rect x="187" y="443" width="23" height="23" fill="#770077"/><rect x="256" y="443" width="23" height="23" fill="#770077"/><rect x="349" y="443" width="23" height="23" fill="#2d0044"/><rect x="118" y="466" width="23" height="24" fill="#2d0044"/><rect x="210" y="466" width="23" height="24" fill="#2d0044"/><rect x="233" y="466" width="23" height="24" fill="#770077"/><rect x="302" y="466" width="23" height="24" fill="#2d0044"/><rect x="210" y="490" width="23" height="23" fill="#2d0044"/><rect x="233" y="490" width="23" height="23" fill="#2d0044"/><rect x="325" y="490" width="24" height="23" fill="#2d0044"/><rect x="325" y="513" width="24" height="24" fill="#770077"/><rect x="325" y="537" width="24" height="23" fill="#2d0044"/></g>
<ellipse cx="236.5" cy="266.5" rx="173.4" ry="164.5" transform="rotate(-41.7 236.5 266.5)" fill="none" stroke="#c4ffe2" stroke-opacity="0.72" stroke-width="1.8"/>
<rect x="0.5" y="0.5" width="538" height="544" fill="none" stroke="#111" stroke-width="1"/>
</svg>
</body></html>
